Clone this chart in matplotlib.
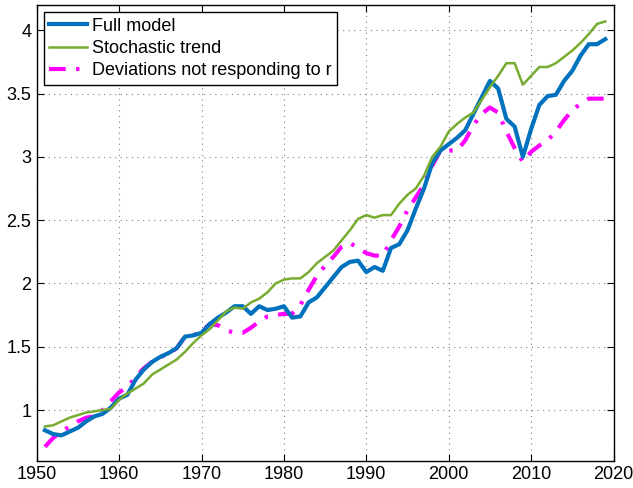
import numpy as np
import matplotlib
matplotlib.use('Agg')
import matplotlib.pyplot as plt

plt.rcParams['font.family'] = ['Liberation Sans', 'DejaVu Sans']

years = np.arange(1951, 2020)

# full model
full_model = [0.84, 0.81, 0.80, 0.83, 0.86, 0.91, 0.95, 0.97, 1.02, 1.09,
              1.12, 1.24, 1.32, 1.38, 1.42, 1.45, 1.49, 1.58, 1.59, 1.61,
              1.68, 1.73, 1.77, 1.82, 1.82, 1.76, 1.82, 1.79, 1.80, 1.82,
              1.73, 1.74, 1.85, 1.89, 1.97, 2.05, 2.13, 2.17, 2.18, 2.09,
              2.13, 2.10, 2.28, 2.31, 2.42, 2.59, 2.75, 2.95, 3.05, 3.10,
              3.15, 3.21, 3.34, 3.47, 3.60, 3.54, 3.30, 3.24, 3.00, 3.22,
              3.41, 3.48, 3.49, 3.60, 3.68, 3.80, 3.89, 3.89, 3.93]

# stochastic trend
stoch_trend = [0.87, 0.88, 0.91, 0.94, 0.96, 0.98, 0.99, 1.00, 1.01, 1.08,
               1.13, 1.17, 1.21, 1.28, 1.32, 1.36, 1.40, 1.46, 1.53, 1.59,
               1.64, 1.71, 1.78, 1.81, 1.80, 1.85, 1.88, 1.93, 2.00, 2.03,
               2.04, 2.04, 2.09, 2.16, 2.21, 2.26, 2.34, 2.42, 2.51, 2.54,
               2.52, 2.54, 2.54, 2.63, 2.70, 2.75, 2.85, 3.00, 3.08, 3.20,
               3.26, 3.31, 3.35, 3.45, 3.55, 3.64, 3.74, 3.74, 3.57, 3.64,
               3.71, 3.71, 3.74, 3.79, 3.84, 3.90, 3.97, 4.05, 4.07]

# deviations
deviations = [0.71, 0.78, 0.83, 0.87, 0.91, 0.94, 0.95, 1.00, 1.07, 1.14,
              1.18, 1.26, 1.33, 1.38, 1.42, 1.44, 1.49, 1.58, 1.59, 1.62,
              1.68, 1.67, 1.63, 1.61, 1.61, 1.65, 1.70, 1.74, 1.75, 1.76,
              1.76, 1.83, 1.95, 2.06, 2.14, 2.21, 2.29, 2.32, 2.28, 2.24,
              2.22, 2.22, 2.34, 2.45, 2.58, 2.68, 2.78, 2.93, 3.05, 3.05,
              3.05, 3.13, 3.25, 3.34, 3.39, 3.35, 3.20, 3.07, 2.96, 3.04,
              3.09, 3.13, 3.20, 3.29, 3.37, 3.42, 3.46, 3.46, 3.46]

labels = ['Full model', 'Stochastic trend', 'Deviations not responding to r']

fig = plt.figure(figsize=(6.33, 4.88), dpi=100)
ax = fig.add_axes([0.058, 0.056, 0.9112, 0.9338])

ax.plot(years, full_model, color='#0072BD', lw=3, label=labels[0], zorder=3)
ax.plot(years, stoch_trend, color='#77AC30', lw=1.8, label=labels[1], zorder=4)
ax.plot(years, deviations, color='#FF00FF', lw=3, ls=(0, (4, 2.5, 0.8, 2.5)),
        label=labels[2], zorder=2)

ax.set_xlim(1950, 2020)
ax.set_ylim(0.6, 4.2)
ax.set_xticks(np.arange(1950, 2021, 10))
ax.set_yticks([1, 1.5, 2, 2.5, 3, 3.5, 4])
ax.set_yticklabels(['1', '1.5', '2', '2.5', '3', '3.5', '4'])
ax.tick_params(direction='in', top=True, right=True, length=5, width=0.8,
               labelsize=13, pad=4)
ax.grid(True, ls=(0, (1, 4)), color='#808080', lw=0.8)
for s in ax.spines.values():
    s.set_linewidth(1.0)

leg = ax.legend(loc='upper left', fontsize=13, frameon=True, fancybox=False,
                edgecolor='black', framealpha=1, borderaxespad=0.4,
                handlelength=2.1, handletextpad=0.25, labelspacing=0.3,
                borderpad=0.3)
leg.get_frame().set_linewidth(1.0)

plt.savefig('out.png', dpi=100)
plt.close(fig)
